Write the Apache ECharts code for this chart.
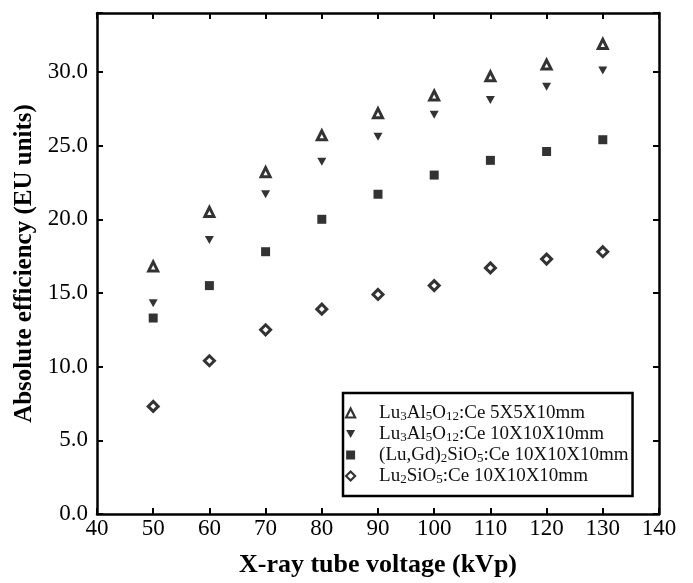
<!DOCTYPE html>
<html><head><meta charset="utf-8">
<script src="https://cdn.jsdelivr.net/npm/echarts@6/dist/echarts.min.js"></script>
<style>html,body{margin:0;padding:0;background:#fff}#c{width:693px;height:583px}</style>
</head><body><div id="c"></div>
<script>
const voltages = [50, 60, 70, 80, 90, 100, 110, 120, 130];
const lagSmall = [16.8, 20.5, 23.2, 25.7, 27.2, 28.4, 29.7, 30.5, 31.9];
const lagLarge = [14.3, 18.6, 21.7, 23.9, 25.6, 27.1, 28.1, 29.0, 30.1];
const lgso = [13.3, 15.5, 17.8, 20.0, 21.7, 23.0, 24.0, 24.6, 25.4];
const lso = [7.3, 10.4, 12.5, 13.9, 14.9, 15.5, 16.7, 17.3, 17.8];
const seriesNames = ['LuAG 5x5x10', 'LuAG 10x10x10', 'LGSO 10x10x10', 'LSO 10x10x10'];
const legendLabels = [
  'Lu{sub|3}Al{sub|5}O{sub|12}:Ce 5X5X10mm',
  'Lu{sub|3}Al{sub|5}O{sub|12}:Ce 10X10X10mm',
  '(Lu,Gd){sub|2}SiO{sub|5}:Ce 10X10X10mm',
  'Lu{sub|2}SiO{sub|5}:Ce 10X10X10mm'
];
const xTitle = 'X-ray tube voltage (kVp)';
const yTitle = 'Absolute efficiency (EU units)';

const FONT = 'Liberation Serif';
const DOWN_TRI = 'path://M0,0L10,0L5,9Z';
const legendBorders = [2.2, 0, 0, 2.2];
const pair = arr => voltages.map((v, i) => [v, arr[i]]);
const chart = echarts.init(document.getElementById('c'), null, {renderer: 'canvas'});
const axisLine = {show: true, onZero: false, lineStyle: {color: '#000', width: 2.5}};
const ticks = {show: true, inside: true, length: 6, lineStyle: {color: '#000', width: 2}};
chart.setOption({
  animation: false,
  backgroundColor: '#fff',
  grid: {left: 97, right: 34, top: 13, bottom: 67},
  legend: {
    orient: 'vertical', left: 343, top: 393,
    padding: [10, 4, 10, 2],
    itemGap: 1, itemWidth: 9, itemHeight: 9,
    borderColor: '#000', borderWidth: 2.5,
    data: seriesNames.map((n, i) => ({name: n, itemStyle: {borderWidth: legendBorders[i]}})),
    formatter: name => legendLabels[seriesNames.indexOf(name)],
    textStyle: {
      fontFamily: FONT, fontSize: 19, lineHeight: 20, color: '#111', padding: [0, 0, 0, 19],
      rich: {sub: {fontFamily: FONT, fontSize: 13, lineHeight: 20, color: '#111', verticalAlign: 'bottom', padding: [7, 0, 0, 0]}}
    }
  },
  xAxis: [{
    type: 'value', min: 40, max: 140, interval: 10, position: 'bottom',
    axisLine, axisTick: ticks, splitLine: {show: false},
    axisLabel: {fontFamily: FONT, fontSize: 23, color: '#000', margin: 3},
    name: xTitle, nameLocation: 'middle', nameGap: 38,
    nameTextStyle: {fontFamily: FONT, fontSize: 26, fontWeight: 'bold', color: '#000', verticalAlign: 'top'}
  }, {
    type: 'value', min: 40, max: 140, interval: 10, position: 'top',
    axisLine, axisTick: ticks, axisLabel: {show: false}, splitLine: {show: false}
  }],
  yAxis: [{
    type: 'value', min: 0, max: 34, interval: 5, position: 'left',
    axisLine, axisTick: ticks, splitLine: {show: false},
    axisLabel: {fontFamily: FONT, fontSize: 23, color: '#000', margin: 9,
      formatter: v => (v % 5 === 0 ? v.toFixed(1) : '')},
    name: yTitle, nameLocation: 'middle', nameGap: 60,
    nameTextStyle: {fontFamily: FONT, fontSize: 25, fontWeight: 'bold', color: '#000'}
  }, {
    type: 'value', min: 0, max: 34, interval: 5, position: 'right',
    axisLine, axisTick: ticks, axisLabel: {show: false}, splitLine: {show: false}
  }],
  series: [
    {name: seriesNames[0], type: 'scatter', data: pair(lagSmall), symbol: 'triangle', symbolSize: 9,
     itemStyle: {color: '#fff', borderColor: '#000', borderWidth: 3}},
    {name: seriesNames[1], type: 'scatter', data: pair(lagLarge), symbol: DOWN_TRI, symbolSize: [9, 8],
     itemStyle: {color: '#000', borderColor: '#000', borderWidth: 0}},
    {name: seriesNames[2], type: 'scatter', data: pair(lgso), symbol: 'rect', symbolSize: 9,
     itemStyle: {color: '#000', borderColor: '#000', borderWidth: 0}},
    {name: seriesNames[3], type: 'scatter', data: pair(lso), symbol: 'diamond', symbolSize: 10,
     itemStyle: {color: '#fff', borderColor: '#000', borderWidth: 3}}
  ]
});
</script></body></html>
